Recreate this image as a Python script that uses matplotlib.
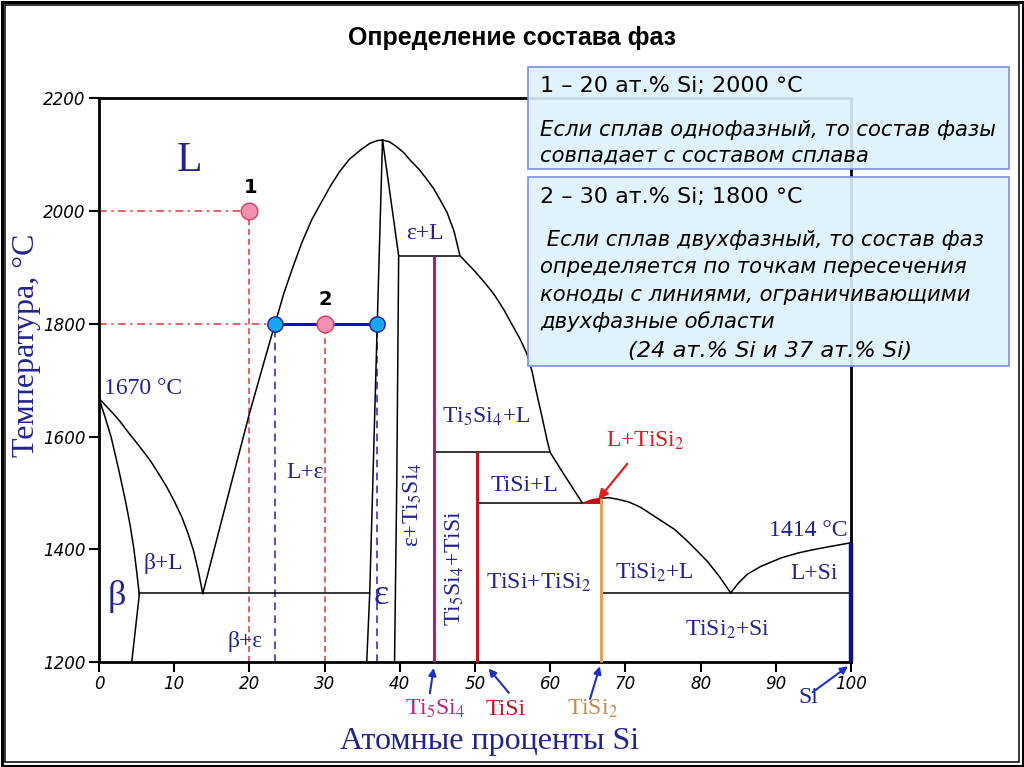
import matplotlib.pyplot as plt
from matplotlib.patches import Rectangle, Polygon

plt.rcParams['mathtext.fontset'] = 'stix'

W, H = 1024, 767

# ---- линии диаграммы Ti-Si (ат.% Si, °C) ----
beta_sol_x = [0, 0.8, 1.6, 2.6, 3.6, 4.15, 4.65, 5.0, 5.36]
beta_sol_t = [1668, 1635, 1600, 1543, 1481, 1442, 1400, 1362, 1320]
beta_solv_x = [5.36, 4.35]
beta_solv_t = [1320, 1200]
beta_liq_x = [0, 0.9, 1.9, 2.8, 3.7, 5.2, 6.8, 8.0, 9.0, 10.0, 11.0, 11.8, 12.55, 13.2, 13.8]
beta_liq_t = [1668, 1655, 1641, 1627, 1611, 1586, 1558, 1533, 1511, 1486, 1458, 1430, 1399, 1362, 1322]
eps_liq_x = [13.8, 17, 20, 22, 23.4, 24.6, 25.9, 27, 28.3, 29.5, 30.8, 32, 33.3, 34.75, 36, 37, 37.7]
eps_liq_t = [1322, 1487, 1641, 1735, 1800, 1855, 1905, 1945, 1985, 2014, 2045, 2070, 2092, 2108, 2120, 2125, 2126]
liq_r_x = [37.7, 38.6, 39.5, 40.5, 41.4, 42.5, 43.5, 44.5, 45.4, 46.3, 47.2, 48.0, 49.0, 50.0, 51.3,
           52.5, 53.8, 55.0, 56.0, 56.9, 57.6, 58.2, 58.9, 59.6, 60.0, 61.5, 64.3]
liq_r_t = [2126, 2123, 2115, 2104, 2090, 2075, 2058, 2040, 2019, 1997, 1965, 1921, 1907, 1893, 1873,
           1853, 1826, 1797, 1773, 1747, 1715, 1677, 1636, 1593, 1572, 1540, 1482]
tisi2_liq_x = [66.8, 67.8, 69, 70.5, 72, 73.5, 75, 76.5, 78, 79.5, 80.9, 82.5, 84.0]
tisi2_liq_t = [1491, 1492, 1489, 1484, 1475, 1462, 1449, 1436, 1418, 1398, 1379, 1352, 1323]
si_liq_x = [84.0, 85, 86.2, 88, 90.7, 93, 95.1, 97.5, 100]
si_liq_t = [1323, 1340, 1356, 1370, 1385, 1394, 1400, 1406, 1412]
eps_left_x = [37.7, 37.0, 36.0, 35.6]
eps_left_t = [2126, 1800, 1322, 1200]
eps_right_x = [37.7, 39.85, 39.6, 39.3]
eps_right_t = [2126, 1921, 1523, 1200]

# горизонтали: (x1, x2, T)
isotherms = [(5.36, 35.9, 1322), (39.85, 48.0, 1921), (44.6, 60.0, 1572),
             (50.2, 64.3, 1482), (66.8, 100, 1323)]

# соединения: x, T верх, цвет, толщина
compounds_x = [44.6, 50.2, 66.8, 100]
compounds_top = [1921, 1572, 1491, 1412]
compounds_col = ['#a8207f', '#b81818', '#e3a060', '#10108a']
compounds_lw = [2.2, 2.2, 2.2, 3.2]

# область L+TiSi2
l_tisi2_x = [64.3, 65.5, 66.8, 66.8]
l_tisi2_t = [1482, 1488, 1491, 1482]

# точки сплавов
alloy_x = [20, 30]
alloy_t = [2000, 1800]
konoda_x = [23.4, 37.0]
konoda_t = 1800

blue = '#23238f'

fig = plt.figure(figsize=(W / 100, H / 100), dpi=100)
ax = fig.add_axes([99 / W, 1 - 662.3 / H, 752 / W, 564 / H])
ax.set_xlim(0, 100)
ax.set_ylim(1200, 2200)

kw = dict(color='black', lw=1.1, zorder=3)
for xs, ts in [(beta_sol_x, beta_sol_t), (beta_solv_x, beta_solv_t), (beta_liq_x, beta_liq_t),
               (eps_liq_x, eps_liq_t), (liq_r_x, liq_r_t), (tisi2_liq_x, tisi2_liq_t),
               (si_liq_x, si_liq_t), (eps_left_x, eps_left_t), (eps_right_x, eps_right_t)]:
    ax.plot(xs, ts, **kw)
for x1, x2, t in isotherms:
    ax.plot([x1, x2], [t, t], **kw)

ax.add_patch(Polygon(list(zip(l_tisi2_x, l_tisi2_t)), closed=True, fc='#c01010', ec='#c01010', zorder=4))

for x, top, c, lw in zip(compounds_x, compounds_top, compounds_col, compounds_lw):
    ax.plot([x, x], [1200, top], color=c, lw=lw, zorder=5, solid_capstyle='butt', clip_on=False)

# вспомогательные линии
ax.plot([0, alloy_x[0]], [alloy_t[0], alloy_t[0]], color='#e03535', lw=1.1, dashes=(5, 3, 1.5, 3), zorder=2)
ax.plot([0, konoda_x[0]], [konoda_t, konoda_t], color='#e03535', lw=1.1, dashes=(5, 3, 1.5, 3), zorder=2)
for x, t in zip(alloy_x, alloy_t):
    ax.plot([x, x], [1200, t], color='#e03535', lw=1.1, dashes=(4, 2.5), zorder=2)
for x in konoda_x:
    ax.plot([x, x], [1200, konoda_t], color='#2020c0', lw=1.1, dashes=(5, 3.5), zorder=2)
ax.plot(konoda_x, [konoda_t, konoda_t], color='#1010c8', lw=2.2, zorder=6)
ax.plot(konoda_x, [konoda_t, konoda_t], 'o', ms=11, mfc='#18a8f0', mec='#1020a0', mew=1.0, zorder=7)
ax.plot(alloy_x, alloy_t, 'o', ms=12, mfc='#f590b0', mec='#d04060', mew=1.0, zorder=7)

ax.text(20.2, 2041, '1', fontsize=14, fontweight='bold', ha='center', va='center', family='DejaVu Sans')
ax.text(30.05, 1843, '2', fontsize=14, fontweight='bold', ha='center', va='center', family='DejaVu Sans')

# подписи областей
serif = 'Liberation Serif'
labels = [
    (12.1, 2090, 'L', 30, 0), (5.9, 1686, '1670 °C', 17, 0), (8.5, 1376, 'β+L', 17, 0),
    (2.4, 1316, 'β', 26, 0), (19.4, 1236, 'β+ε', 17, 0), (27.4, 1537, 'L+ε', 17, 0),
    (37.5, 1319, 'ε', 26, 0), (43.35, 1961, 'ε+L', 17, 0),
    (41.75, 1479, r'ε+Ti$_5$Si$_4$', 17, 90), (47.3, 1367, r'Ti$_5$Si$_4$+TiSi', 17, 90),
    (51.5, 1635, r'Ti$_5$Si$_4$+L', 17, 0), (56.6, 1514, 'TiSi+L', 17, 0),
    (58.4, 1341, r'TiSi+TiSi$_2$', 17, 0), (73.8, 1358, r'TiSi$_2$+L', 17, 0),
    (94.3, 1434, '1414 °C', 17, 0), (95.1, 1358, 'L+Si', 17, 0),
    (83.6, 1257, r'TiSi$_2$+Si', 17, 0),
]
for x, t, s, fs, rot in labels:
    ax.text(x, t, s, fontsize=fs, color=blue, family=serif, ha='center', va='center', rotation=rot, zorder=8)

ax.annotate(r'L+TiSi$_2$', xy=(66.4, 1489), xytext=(72.7, 1592), fontsize=17, color='#d02020',
            family=serif, ha='center', va='center',
            arrowprops=dict(arrowstyle='-|>', color='#e02020', lw=1.6, shrinkA=8, shrinkB=0, mutation_scale=14))

# подписи соединений под осью
bottom_x = [44.7, 54.1, 65.6, 94.3]
bottom_t = [1117, 1117, 1117, 1137]
bottom_s = [r'Ti$_5$Si$_4$', 'TiSi', r'TiSi$_2$', 'Si']
bottom_c = ['#c0207f', '#c01525', '#c88a50', blue]
arrow_from = [(44.0, 1145), (54.5, 1146), (65.3, 1135), (94.9, 1147)]
arrow_to = [(44.5, 1190), (51.8, 1189), (66.6, 1193), (99.6, 1193)]
for x, t, s, c in zip(bottom_x, bottom_t, bottom_s, bottom_c):
    ax.text(x, t, s, fontsize=17, color=c, family=serif, ha='center', va='center', clip_on=False)
for p0, p1 in zip(arrow_from, arrow_to):
    ax.annotate('', xy=p1, xytext=p0, annotation_clip=False,
                arrowprops=dict(arrowstyle='-|>', color='#2030c0', lw=1.5, shrinkA=0, shrinkB=0, mutation_scale=11))

# оси
ax.set_xticks(range(0, 101, 10))
ax.set_yticks(range(1200, 2201, 200))
ax.tick_params(direction='out', length=7.5, width=1.5, labelsize=12, pad=2)
for lbl in ax.get_xticklabels() + ax.get_yticklabels():
    lbl.set_fontstyle('italic')
for sp in ax.spines.values():
    sp.set_linewidth(2.0)

fig.text(27 / W, 1 - 345 / H, 'Температура, °C', rotation=90, fontsize=23, color=blue, family=serif,
         ha='center', va='center')
fig.text(490 / W, 1 - 741 / H, 'Атомные проценты Si', fontsize=23, color=blue, family=serif,
         ha='center', va='center')
fig.text(512 / W, 1 - 38 / H, 'Определение состава фаз', fontsize=18, fontweight='bold',
         family='Liberation Sans', ha='center', va='center')

# текстовые блоки
def box(x0, y0, x1, y1):
    fig.add_artist(Rectangle((x0 / W, 1 - y1 / H), (x1 - x0) / W, (y1 - y0) / H, transform=fig.transFigure,
                             fc=(0.87, 0.95, 0.98, 0.9), ec='#7d8fdc', lw=1.2, zorder=2))

box(528, 67, 1009, 169)
box(528, 177, 1009, 366)
bx = 540 / W
fs_h, fs_i = 16, 15.2
fig.text(bx, 1 - 86 / H, '1 – 20 ат.% Si; 2000 °C', fontsize=fs_h, family='DejaVu Sans', va='center')
fig.text(bx, 1 - 130 / H, 'Если сплав однофазный, то состав фазы', fontsize=fs_i, style='italic',
         family='DejaVu Sans', va='center')
fig.text(bx, 1 - 156 / H, 'совпадает с составом сплава', fontsize=fs_i, style='italic',
         family='DejaVu Sans', va='center')
fig.text(bx, 1 - 197 / H, '2 – 30 ат.% Si; 1800 °C', fontsize=fs_h, family='DejaVu Sans', va='center')
lines2 = [' Если сплав двухфазный, то состав фаз', 'определяется по точкам пересечения',
          'коноды с линиями, ограничивающими', 'двухфазные области']
for i, s in enumerate(lines2):
    fig.text(bx, 1 - (240 + 27.3 * i) / H, s, fontsize=fs_i, style='italic', family='DejaVu Sans', va='center')
fig.text(770 / W, 1 - 351 / H, '(24 ат.% Si и 37 ат.% Si)', fontsize=fs_i + 1, style='italic',
         family='DejaVu Sans', ha='center', va='center')

# рамка
fig.add_artist(Rectangle((1.5 / W, 1.5 / H), 1 - 3 / W, 1 - 3 / H, transform=fig.transFigure,
                         fill=False, ec='black', lw=2.2, zorder=10))
fig.add_artist(Rectangle((5.3 / W, 5.3 / H), 1 - 10.6 / W, 1 - 10.6 / H, transform=fig.transFigure,
                         fill=False, ec='black', lw=1.1, zorder=10))

plt.savefig('out.png', dpi=100)
